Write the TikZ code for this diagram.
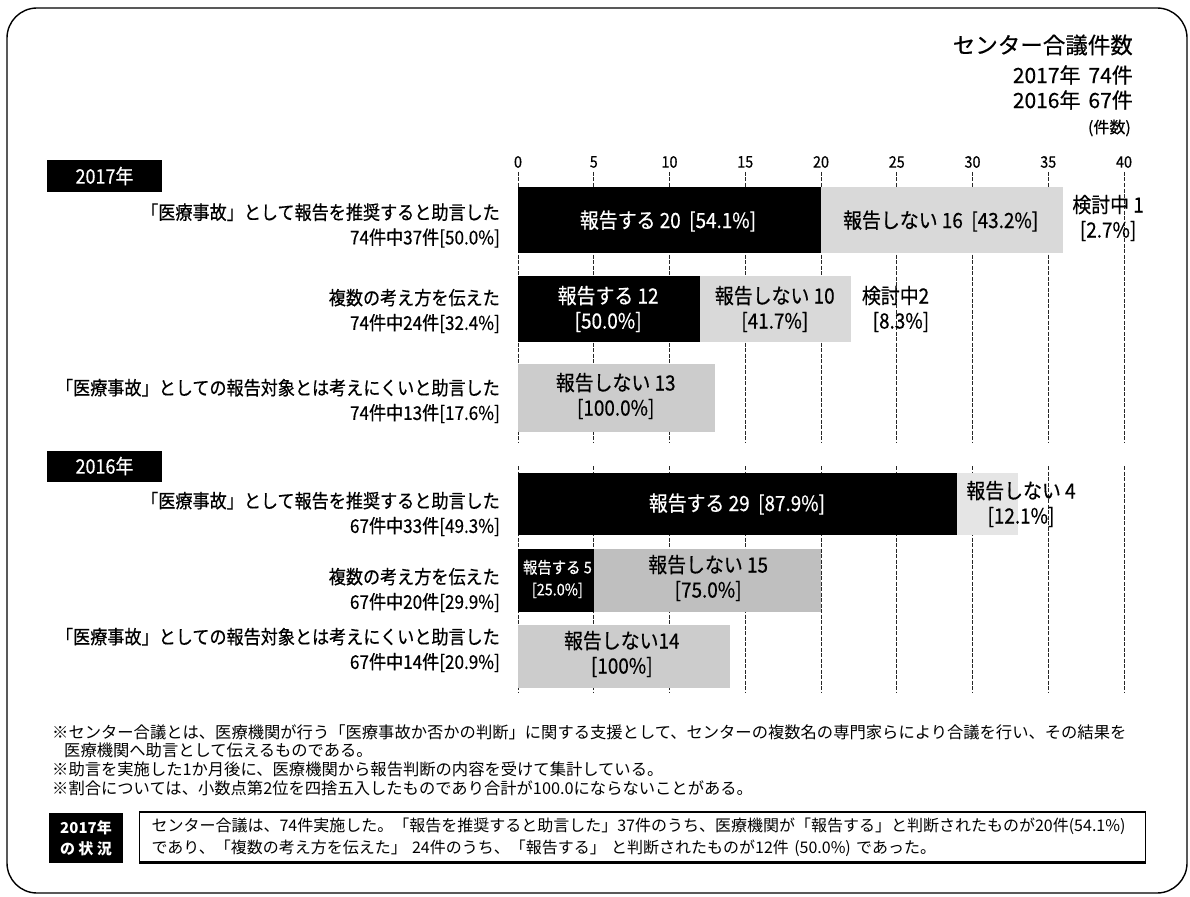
\documentclass[tikz,border=0pt]{standalone}
\usepackage{fontspec}
\setmainfont{Noto Sans CJK JP}
\newfontfamily\narrowjp{Noto Sans CJK JP}[FakeStretch=0.9, FakeBold=0.5]
\newfontfamily\headjp{Noto Sans CJK JP}[FakeBold=0.5]
\usepackage{tikz}
\tikzset{
    head/.style={anchor=east, inner sep=0pt},
    yesbar/.style={fill=black},
    nobar/.style={fill=gray!#1},
    gridln/.style={line width=0.7pt, dash pattern=on 4pt off 1.5pt, black!85},
    cat/.style={anchor=east, align=right, inner sep=0pt, font=\narrowjp\fontsize{19}{25}\selectfont},
    val/.style={align=center, inner sep=0pt, font=\narrowjp\fontsize{21}{25}\selectfont},
    yeartag/.style={fill=black, text=white, minimum width=115pt, minimum height=31pt, inner sep=0pt, font=\narrowjp\fontsize{20}{24}\selectfont},
    note/.style={anchor=west, inner sep=0pt, font=\fontsize{16.3}{18}\selectfont}
}

\begin{document}
\begin{tikzpicture}[x=1pt,y=-1pt]
\useasboundingbox (0,0) rectangle (1190,896);
\draw[line width=1.4pt, rounded corners=30pt] (7,8) rectangle (1187,893);
\node[head, font=\headjp\fontsize{22.5}{26}\selectfont] (ttl) at (1133,45) {センター合議件数};
\node[head, font=\headjp\fontsize{21}{26}\selectfont] (n17) at (1133,75) {2017年\hspace{8pt}74件};
\node[head, font=\headjp\fontsize{21}{26}\selectfont] (n16) at (1133,100) {2016年\hspace{8pt}67件};
\node[head, font=\headjp\fontsize{16}{18}\selectfont] (unit) at (1131,128) {(件数)};
\node[yeartag] (y17) at (104.5,176) {2017年};
\node[yeartag] (y16) at (104.5,466) {2016年};
\node[cat] (c17a) at (500,225.5) {「医療事故」として報告を推奨すると助言した\\74件中37件[50.0\%]};
\node[cat] (c17b) at (500,311) {複数の考え方を伝えた\\74件中24件[32.4\%]};
\node[cat] (c17c) at (500,401) {「医療事故」としての報告対象とは考えにくいと助言した\\74件中13件[17.6\%]};
\node[cat] (c16a) at (500,514) {「医療事故」として報告を推奨すると助言した\\67件中33件[49.3\%]};
\node[cat] (c16b) at (500,590) {複数の考え方を伝えた\\67件中20件[29.9\%]};
\node[cat] (c16c) at (500,650) {「医療事故」としての報告対象とは考えにくいと助言した\\67件中14件[20.9\%]};
\begin{scope}[shift={(518,0)}, x=15.15pt]
\foreach \v in {0,5,...,40} {
    \node[inner sep=0pt, font=\narrowjp\fontsize{16}{18}\selectfont] (t\v) at (\v,162) {\v};
    \draw[gridln] (\v,172) -- (\v,442) (\v,466) -- (\v,693);
}
\fill[yesbar] (0,187) rectangle (20,253);
\fill[nobar=30] (20,187) rectangle (36,253);
\fill[yesbar] (0,276) rectangle (12,342);
\fill[nobar=30] (12,276) rectangle (22,342);
\fill[nobar=40] (0,364) rectangle (13,432);
\fill[yesbar] (0,473) rectangle (29,535);
\fill[nobar=20] (29,473) rectangle (33,535);
\fill[yesbar] (0,549) rectangle (5,612);
\fill[nobar=50] (5,549) rectangle (20,612);
\fill[nobar=40] (0,625) rectangle (14,688);
\node[val, text=white] (v17a1) at (9.9,221) {報告する 20\ \ [54.1\%]};
\node[val] (v17a2) at (27.9,221) {報告しない 16\ \ [43.2\%]};
\node[val] (v17a3) at (38.95,218) {検討中 1\\{}[2.7\%]};
\node[val, text=white] (v17b1) at (5.95,309) {報告する 12\\{}[50.0\%]};
\node[val] (v17b2) at (16.95,309) {報告しない 10\\{}[41.7\%]};
\node[val, anchor=east, align=right] (v17b3) at (27.15,309) {検討中2\\{}[8.3\%]};
\node[val] (v17c2) at (6.45,396) {報告しない 13\\{}[100.0\%]};
\node[val, text=white] (v16a1) at (14.45,504) {報告する 29\ \ [87.9\%]};
\node[val] (v16a2) at (33.2,504) {報告しない 4\\{}[12.1\%]};
\node[val, text=white, font=\narrowjp\fontsize{16}{22}\selectfont] (v16b1) at (2.6,579) {報告する 5\\{}[25.0\%]};
\node[val] (v16b2) at (12.55,578) {報告しない 15\\{}[75.0\%]};
\node[val] (v16c2) at (6.85,654) {報告しない14\\{}[100\%]};
\end{scope}
\node[note] (fn1) at (52,732) {※センター合議とは、医療機関が行う「医療事故か否かの判断」に関する支援として、センターの複数名の専門家らにより合議を行い、その結果を};
\node[note] (fn2) at (64,750) {医療機関へ助言として伝えるものである。};
\node[note] (fn3) at (52,769) {※助言を実施した1か月後に、医療機関から報告判断の内容を受けて集計している。};
\node[note] (fn4) at (52,788) {※割合については、小数点第2位を四捨五入したものであり合計が100.0にならないことがある。};
\node[fill=black, text=white, align=center, inner sep=0pt, minimum width=74pt, minimum height=50pt, font=\bfseries\fontsize{15}{21}\selectfont] (jk) at (86,838) {2017年\\の 状 況};
\node[draw, line width=1.1pt, anchor=west, align=left, inner xsep=12pt, inner ysep=0pt, minimum width=1006pt, minimum height=50pt, text width=982pt, font=\fontsize{16}{22}\selectfont] (sm) at (139,837) {センター合議は、74件実施した。「報告を推奨すると助言した」37件のうち、医療機関が「報告する」と判断されたものが20件(54.1\%)\\であり、「複数の考え方を伝えた」 24件のうち、「報告する」 と判断されたものが12件 (50.0\%) であった。};
\draw[line width=2.4pt] (sm.south west) -- (sm.south east);
\end{tikzpicture}
\end{document}
